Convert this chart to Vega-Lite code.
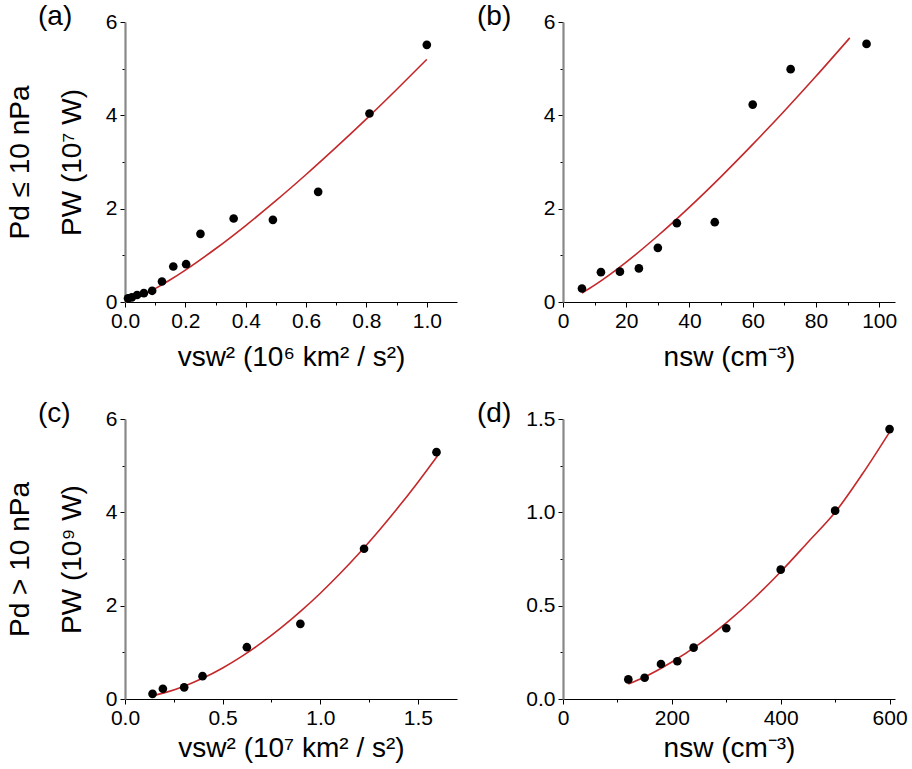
{
  "$schema": "https://vega.github.io/schema/vega-lite/v6.json",
  "background": "white",
  "padding": {"left": 6, "top": 3, "right": 8, "bottom": 5},
  "config": {
    "font": "Liberation Sans",
    "view": {"stroke": null},
    "axis": {
      "grid": false,
      "labelFontSize": 21,
      "labelColor": "black",
      "labelFlush": false,
      "titleFontSize": 28,
      "titleFontWeight": "normal",
      "titleColor": "black",
      "tickColor": "black",
      "labelPadding": 3
    },
    "axisX": {"domainColor": "black", "domainWidth": 1},
    "axisY": {"domainColor": "#888888", "domainWidth": 2.2},
    "title": {"fontSize": 28, "fontWeight": "normal", "anchor": "start", "frame": "group", "color": "black"}
  },
  "datasets": {
    "a_pts": [
      {"x": 0.01, "y": 0.08}, {"x": 0.0225, "y": 0.10}, {"x": 0.04, "y": 0.15},
      {"x": 0.0625, "y": 0.19}, {"x": 0.09, "y": 0.24}, {"x": 0.1225, "y": 0.44},
      {"x": 0.16, "y": 0.76}, {"x": 0.2025, "y": 0.81}, {"x": 0.25, "y": 1.46},
      {"x": 0.36, "y": 1.79}, {"x": 0.49, "y": 1.76}, {"x": 0.64, "y": 2.36},
      {"x": 0.81, "y": 4.04}, {"x": 1.0, "y": 5.51}
    ],
    "a_fit": [
      {"x": 0, "y": 0}, {"x": 0.05, "y": 0.119}, {"x": 0.1, "y": 0.286}, {"x": 0.15, "y": 0.476},
      {"x": 0.2, "y": 0.684}, {"x": 0.3, "y": 1.141}, {"x": 0.4, "y": 1.639}, {"x": 0.5, "y": 2.171},
      {"x": 0.6, "y": 2.732}, {"x": 0.7, "y": 3.318}, {"x": 0.8, "y": 3.925}, {"x": 0.9, "y": 4.554},
      {"x": 1.0, "y": 5.2}
    ],
    "b_pts": [
      {"x": 6, "y": 0.29}, {"x": 12, "y": 0.64}, {"x": 18, "y": 0.65}, {"x": 24, "y": 0.72},
      {"x": 30, "y": 1.16}, {"x": 36, "y": 1.69}, {"x": 48, "y": 1.71}, {"x": 60, "y": 4.23},
      {"x": 72, "y": 4.99}, {"x": 96, "y": 5.53}
    ],
    "b_fit": [
      {"x": 6, "y": 0.19}, {"x": 10, "y": 0.36}, {"x": 15, "y": 0.597}, {"x": 20, "y": 0.855},
      {"x": 30, "y": 1.42}, {"x": 40, "y": 2.034}, {"x": 50, "y": 2.688}, {"x": 60, "y": 3.377},
      {"x": 70, "y": 4.094}, {"x": 80, "y": 4.837}, {"x": 90.7, "y": 5.66}
    ],
    "c_pts": [
      {"x": 0.141, "y": 0.11}, {"x": 0.194, "y": 0.22}, {"x": 0.303, "y": 0.25}, {"x": 0.397, "y": 0.49},
      {"x": 0.624, "y": 1.11}, {"x": 0.898, "y": 1.61}, {"x": 1.224, "y": 3.22}, {"x": 1.595, "y": 5.29}
    ],
    "c_fit": [
      {"x": 0.14, "y": 0.07}, {"x": 0.2, "y": 0.131}, {"x": 0.3, "y": 0.269}, {"x": 0.4, "y": 0.448},
      {"x": 0.5, "y": 0.665}, {"x": 0.6, "y": 0.918}, {"x": 0.7, "y": 1.206}, {"x": 0.8, "y": 1.527},
      {"x": 0.9, "y": 1.881}, {"x": 1.0, "y": 2.267}, {"x": 1.1, "y": 2.684}, {"x": 1.2, "y": 3.13},
      {"x": 1.3, "y": 3.607}, {"x": 1.4, "y": 4.112}, {"x": 1.5, "y": 4.647}, {"x": 1.6, "y": 5.21}
    ],
    "d_pts": [
      {"x": 120, "y": 0.105}, {"x": 150, "y": 0.114}, {"x": 180, "y": 0.1875}, {"x": 210, "y": 0.202},
      {"x": 240, "y": 0.275}, {"x": 300, "y": 0.379}, {"x": 400, "y": 0.693}, {"x": 500, "y": 1.009},
      {"x": 600, "y": 1.446}
    ],
    "d_fit": [
      {"x": 120, "y": 0.08}, {"x": 150, "y": 0.118}, {"x": 200, "y": 0.198}, {"x": 250, "y": 0.294},
      {"x": 300, "y": 0.408}, {"x": 350, "y": 0.537}, {"x": 400, "y": 0.682}, {"x": 450, "y": 0.84},
      {"x": 500, "y": 1.0}, {"x": 550, "y": 1.205}, {"x": 600, "y": 1.43}
    ]
  },
  "spacing": 29,
  "vconcat": [
    {
      "spacing": 20,
      "hconcat": [
        {
          "title": {"text": "(a)", "dx": -87, "dy": 24},
          "width": 332, "height": 280,
          "encoding": {
            "x": {"field": "x", "type": "quantitative", "scale": {"domain": [0, 1.1], "nice": false, "zero": false},
              "axis": {"values": [0, 0.1, 0.2, 0.3, 0.4, 0.5, 0.6, 0.7, 0.8, 0.9, 1.0],
                "labelExpr": "indexof([0, 0.2, 0.4, 0.6, 0.8, 1], datum.value) >= 0 ? format(datum.value, '.1f') : ''",
                "tickSize": {"condition": {"test": "indexof([0, 0.2, 0.4, 0.6, 0.8, 1], datum.value) >= 0", "value": 5}, "value": 3},
                "title": "vsw² (10⁶ km² / s²)", "titlePadding": 12}},
            "y": {"field": "y", "type": "quantitative", "scale": {"domain": [0, 6], "nice": false},
              "axis": {"values": [0, 1, 2, 3, 4, 5, 6],
                "labelExpr": "datum.value % 2 == 0 ? datum.label : ''",
                "tickSize": {"condition": {"test": "datum.value % 2 == 0", "value": 5}, "value": 3},
                "title": ["Pd ≤ 10 nPa", "PW (10⁷ W)"], "titleLineHeight": 52, "titlePadding": 19}}
          },
          "layer": [
            {"data": {"name": "a_fit"}, "mark": {"type": "line", "color": "#c4282b", "strokeWidth": 1.6, "interpolate": "monotone"}},
            {"data": {"name": "a_pts"}, "mark": {"type": "circle", "size": 75, "color": "black", "opacity": 1}}
          ]
        },
        {
          "title": {"text": "(b)", "dx": -86, "dy": 24},
          "width": 332, "height": 280,
          "encoding": {
            "x": {"field": "x", "type": "quantitative", "scale": {"domain": [0, 105], "nice": false},
              "axis": {"values": [0, 10, 20, 30, 40, 50, 60, 70, 80, 90, 100],
                "labelExpr": "datum.value % 20 == 0 ? datum.label : ''",
                "tickSize": {"condition": {"test": "datum.value % 20 == 0", "value": 5}, "value": 3},
                "title": "nsw (cm⁻³)", "titlePadding": 12}},
            "y": {"field": "y", "type": "quantitative", "scale": {"domain": [0, 6], "nice": false},
              "axis": {"values": [0, 1, 2, 3, 4, 5, 6],
                "labelExpr": "datum.value % 2 == 0 ? datum.label : ''",
                "tickSize": {"condition": {"test": "datum.value % 2 == 0", "value": 5}, "value": 3},
                "title": null}}
          },
          "layer": [
            {"data": {"name": "b_fit"}, "mark": {"type": "line", "color": "#c4282b", "strokeWidth": 1.6, "interpolate": "monotone"}},
            {"data": {"name": "b_pts"}, "mark": {"type": "circle", "size": 75, "color": "black", "opacity": 1}}
          ]
        }
      ]
    },
    {
      "spacing": 20,
      "hconcat": [
        {
          "title": {"text": "(c)", "dx": -87, "dy": 24},
          "width": 332, "height": 280,
          "encoding": {
            "x": {"field": "x", "type": "quantitative", "scale": {"domain": [0, 1.7], "nice": false, "zero": false},
              "axis": {"values": [0, 0.25, 0.5, 0.75, 1.0, 1.25, 1.5],
                "labelExpr": "indexof([0, 0.5, 1, 1.5], datum.value) >= 0 ? format(datum.value, '.1f') : ''",
                "tickSize": {"condition": {"test": "indexof([0, 0.5, 1, 1.5], datum.value) >= 0", "value": 5}, "value": 3},
                "title": "vsw² (10⁷ km² / s²)", "titlePadding": 6}},
            "y": {"field": "y", "type": "quantitative", "scale": {"domain": [0, 6], "nice": false},
              "axis": {"values": [0, 1, 2, 3, 4, 5, 6],
                "labelExpr": "datum.value % 2 == 0 ? datum.label : ''",
                "tickSize": {"condition": {"test": "datum.value % 2 == 0", "value": 5}, "value": 3},
                "title": ["Pd > 10 nPa", "PW (10⁹ W)"], "titleLineHeight": 52, "titlePadding": 19}}
          },
          "layer": [
            {"data": {"name": "c_fit"}, "mark": {"type": "line", "color": "#c4282b", "strokeWidth": 1.6, "interpolate": "monotone"}},
            {"data": {"name": "c_pts"}, "mark": {"type": "circle", "size": 75, "color": "black", "opacity": 1}}
          ]
        },
        {
          "title": {"text": "(d)", "dx": -86, "dy": 24},
          "width": 332, "height": 280,
          "encoding": {
            "x": {"field": "x", "type": "quantitative", "scale": {"domain": [0, 610], "nice": false},
              "axis": {"values": [0, 100, 200, 300, 400, 500, 600],
                "labelExpr": "datum.value % 200 == 0 ? datum.label : ''",
                "tickSize": {"condition": {"test": "datum.value % 200 == 0", "value": 5}, "value": 3},
                "title": "nsw (cm⁻³)", "titlePadding": 6}},
            "y": {"field": "y", "type": "quantitative", "scale": {"domain": [0, 1.5], "nice": false},
              "axis": {"values": [0, 0.25, 0.5, 0.75, 1.0, 1.25, 1.5],
                "labelExpr": "indexof([0, 0.5, 1, 1.5], datum.value) >= 0 ? format(datum.value, '.1f') : ''",
                "tickSize": {"condition": {"test": "indexof([0, 0.5, 1, 1.5], datum.value) >= 0", "value": 5}, "value": 3},
                "title": null}}
          },
          "layer": [
            {"data": {"name": "d_fit"}, "mark": {"type": "line", "color": "#c4282b", "strokeWidth": 1.6, "interpolate": "monotone"}},
            {"data": {"name": "d_pts"}, "mark": {"type": "circle", "size": 75, "color": "black", "opacity": 1}}
          ]
        }
      ]
    }
  ]
}
